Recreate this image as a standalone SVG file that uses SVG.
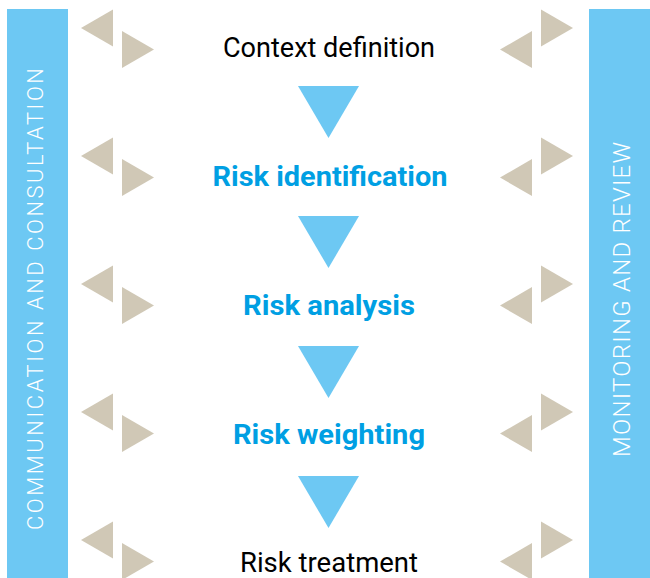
<svg xmlns="http://www.w3.org/2000/svg" xmlns:xlink="http://www.w3.org/1999/xlink" width="650" height="578" viewBox="0 0 650 578">
  <style>
    .bar { fill: #6dc8f3; }
    .side { fill: #ffffff; font-family: Roboto, "Liberation Sans", sans-serif; font-weight: 300; text-anchor: middle; }
    .step { font-family: Roboto, "Liberation Sans", sans-serif; font-size: 27px; text-anchor: middle; }
    .plain { fill: #000000; font-weight: 400; }
    .key { fill: #009fe3; font-weight: 700; }
    .beige { fill: #d0c8b6; }
    .down { fill: #6dc8f3; }
  </style>
  <defs>
    <polygon id="tl" points="0,0 32,-18.5 32,18.5"/>
    <polygon id="tr" points="0,-18.5 32,0 0,18.5"/>
    <polygon id="tdown" points="-30.5,0 30.5,0 0,52"/>
  </defs>

  <rect width="650" height="578" fill="#ffffff"/>

  <g id="communication-bar">
    <rect class="bar" x="7" y="9" width="61" height="569"/>
    <text class="side" font-size="22" transform="translate(43,299) rotate(-90)" textLength="462" lengthAdjust="spacing">COMMUNICATION AND CONSULTATION</text>
  </g>

  <g id="monitoring-bar">
    <rect class="bar" x="589" y="9" width="61" height="569"/>
    <text class="side" font-size="24" transform="translate(630,299.5) rotate(-90)" textLength="315" lengthAdjust="spacing">MONITORING AND REVIEW</text>
  </g>

  <g id="left-exchange" class="beige">
    <use xlink:href="#tl" x="81" y="28"/><use xlink:href="#tr" x="122" y="49.5"/>
    <use xlink:href="#tl" x="81" y="156"/><use xlink:href="#tr" x="122" y="177.5"/>
    <use xlink:href="#tl" x="81" y="284"/><use xlink:href="#tr" x="122" y="305.5"/>
    <use xlink:href="#tl" x="81" y="412"/><use xlink:href="#tr" x="122" y="433.5"/>
    <use xlink:href="#tl" x="81" y="540"/><use xlink:href="#tr" x="122" y="561.5"/>
  </g>

  <g id="right-exchange" class="beige">
    <use xlink:href="#tr" x="541" y="28"/><use xlink:href="#tl" x="500" y="49.5"/>
    <use xlink:href="#tr" x="541" y="156"/><use xlink:href="#tl" x="500" y="177.5"/>
    <use xlink:href="#tr" x="541" y="284"/><use xlink:href="#tl" x="500" y="305.5"/>
    <use xlink:href="#tr" x="541" y="412"/><use xlink:href="#tl" x="500" y="433.5"/>
    <use xlink:href="#tr" x="541" y="540"/><use xlink:href="#tl" x="500" y="561.5"/>
  </g>

  <g id="connectors" class="down">
    <use xlink:href="#tdown" x="328.5" y="86"/>
    <use xlink:href="#tdown" x="328.5" y="216"/>
    <use xlink:href="#tdown" x="328.5" y="346"/>
    <use xlink:href="#tdown" x="328.5" y="476"/>
  </g>

  <g id="context-definition">
    <text class="step plain" x="329" y="57" textLength="212" lengthAdjust="spacingAndGlyphs">Context definition</text>
  </g>
  <g id="risk-identification">
    <text class="step key" x="330" y="186" textLength="235" lengthAdjust="spacingAndGlyphs">Risk identification</text>
  </g>
  <g id="risk-analysis">
    <text class="step key" x="329" y="315" textLength="172" lengthAdjust="spacingAndGlyphs">Risk analysis</text>
  </g>
  <g id="risk-weighting">
    <text class="step key" x="329" y="444" textLength="192" lengthAdjust="spacingAndGlyphs">Risk weighting</text>
  </g>
  <g id="risk-treatment">
    <text class="step plain" x="329" y="572" textLength="178" lengthAdjust="spacingAndGlyphs">Risk treatment</text>
  </g>
</svg>
